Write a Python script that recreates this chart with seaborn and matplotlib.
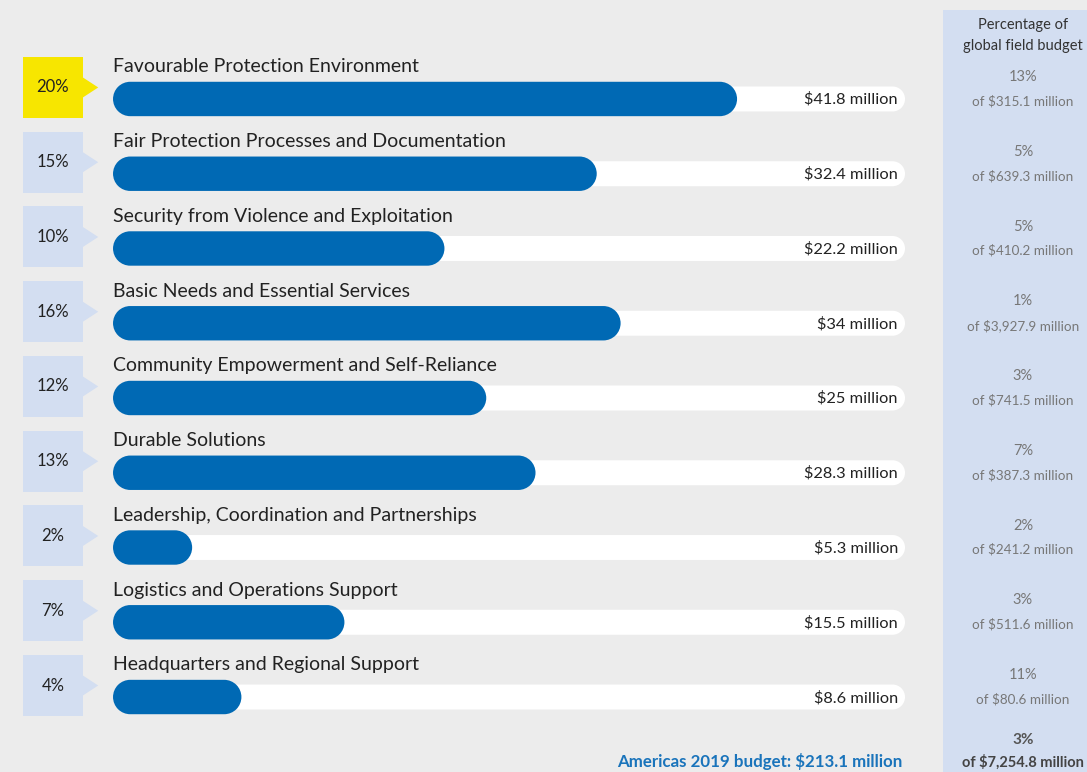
import numpy as np
import pandas as pd
import seaborn as sns
import matplotlib.pyplot as plt
from matplotlib.patches import PathPatch, Polygon, Rectangle
from matplotlib.path import Path

themes = ['Favourable Protection Environment',
          'Fair Protection Processes and Documentation',
          'Security from Violence and Exploitation',
          'Basic Needs and Essential Services',
          'Community Empowerment and Self-Reliance',
          'Durable Solutions',
          'Leadership, Coordination and Partnerships',
          'Logistics and Operations Support',
          'Headquarters and Regional Support']
amounts = [41.8, 32.4, 22.2, 34, 25, 28.3, 5.3, 15.5, 8.6]
shares = ['20%', '15%', '10%', '16%', '12%', '13%', '2%', '7%', '4%']
global_pct = ['13%', '5%', '5%', '1%', '3%', '7%', '2%', '3%', '11%']
global_budget = ['$315.1', '$639.3', '$410.2', '$3,927.9', '$741.5',
                 '$387.3', '$241.2', '$511.6', '$80.6']
total_label = 'Americas 2019 budget: $213.1 million'
total_pct = '3%'
total_global = '$7,254.8'

BG = '#ececec'
BLUE = '#0069b4'
PANEL = '#d3def1'
YELLOW = '#f7e600'

sns.set_theme(style='white')
plt.rcParams['font.family'] = ['Lato', 'DejaVu Sans']

fig = plt.figure(figsize=(10.87, 7.72), dpi=100, facecolor=BG)
ax = fig.add_axes([0, 0, 1, 1])
ax.set_facecolor(BG)

df = pd.DataFrame({'theme': themes, 'amount': amounts})
sns.barplot(data=df, x='amount', y='theme', orient='h', color=BLUE,
            saturation=1, width=0.46, ax=ax, zorder=3)

xlim = (-7.57, 65.24)
ylim = (9.003, -1.324)
ax.set_xlim(*xlim)
ax.set_ylim(*ylim)
ax.axis('off')

# data units per pixel
ux = (xlim[1] - xlim[0]) / 1087
uy = abs(ylim[0] - ylim[1]) / 772


def pill(x0, y0, w, h):
    # capsule shape with true half-circle ends (in pixel space)
    ry = h / 2
    rx = ry / uy * ux
    yc = y0 + ry
    left = Path.arc(90, 270)
    right = Path.arc(-90, 90)
    lv = left.vertices * [rx, ry] + [x0 + rx, yc]
    rv = right.vertices * [rx, ry] + [x0 + w - rx, yc]
    verts = np.vstack([lv, rv, lv[:1]])
    codes = list(left.codes) + [Path.LINETO] + list(right.codes[1:]) + [Path.CLOSEPOLY]
    return Path(verts, codes)


# replace bars by rounded ones
for p in list(ax.patches):
    x0, y0, w, h = p.get_x(), p.get_y(), p.get_width(), p.get_height()
    p.remove()
    ax.add_patch(PathPatch(pill(x0, y0, w, h), fc=BLUE, ec='none', zorder=3))

track_end = 53.05
track_h = 0.334
for i in range(len(themes)):
    ax.add_patch(PathPatch(pill(0, i - track_h / 2, track_end, track_h),
                           fc='white', ec='none', zorder=2))
    ax.text(0, i - 0.43, themes[i], fontsize=14, color='#222222',
            ha='left', va='center')
    ax.text(52.58, i + 0.01, f'${amounts[i]:g} million', fontsize=11.8,
            color='#222222', ha='right', va='center', zorder=4)
    # left share box with arrow
    c = i - 0.154
    col = YELLOW if i == 0 else PANEL
    ax.add_patch(Rectangle((-6.03, c - 0.408), 4.02, 0.816, fc=col, ec='none'))
    ax.add_patch(Polygon([(-2.02, c - 0.134), (-0.99, c), (-2.02, c + 0.134)],
                         closed=True, fc=col, ec='none'))
    ax.text(-4.02, c, shares[i], fontsize=12, color='#222222',
            ha='center', va='center')

# right panel
ax.add_patch(Rectangle((55.6, -1.19), 12, 11, fc=PANEL, ec='none', zorder=0))
px = 60.95
ax.text(px, -0.99, 'Percentage of', fontsize=10.5, color='#333333',
        ha='center', va='center')
ax.text(px, -0.709, 'global field budget', fontsize=10.5, color='#333333',
        ha='center', va='center')
for i in range(len(themes)):
    ax.text(px, i - 0.294, global_pct[i], fontsize=10.5, color='#777777',
            ha='center', va='center')
    ax.text(px, i + 0.027, f'of {global_budget[i]} million', fontsize=9.7,
            color='#777777', ha='center', va='center')
ax.text(px, 8.575, total_pct, fontsize=11, color='#555555', fontweight='bold',
        ha='center', va='center')
ax.text(px, 8.87, f'of {total_global} million', fontsize=10.5, color='#444444',
        fontweight='bold', ha='center', va='center')
ax.text(52.85, 8.856, total_label, fontsize=12.2, color='#1a74bb',
        fontweight='bold', ha='right', va='center')

fig.savefig('out.png', dpi=100, facecolor=BG)
